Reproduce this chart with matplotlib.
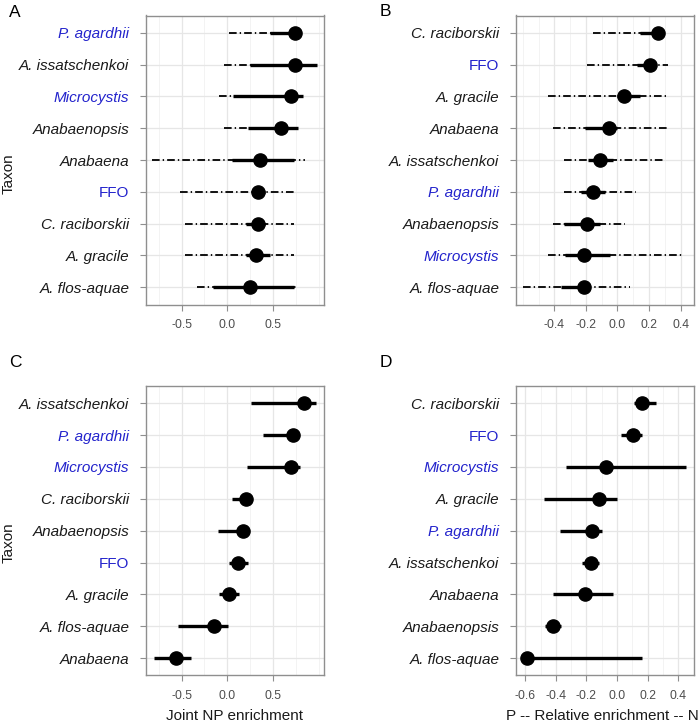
import matplotlib
matplotlib.use("Agg")
import matplotlib.pyplot as plt
import numpy as np

plt.rcParams['font.family'] = ['Liberation Sans', 'DejaVu Sans']
plt.rcParams['lines.scale_dashes'] = False

# ---------------- data ----------------
taxa_A = ["P. agardhii", "A. issatschenkoi", "Microcystis", "Anabaenopsis", "Anabaena",
          "FFO", "C. raciborskii", "A. gracile", "A. flos-aquae"]
est_A = [0.74, 0.74, 0.70, 0.59, 0.36, 0.34, 0.34, 0.32, 0.25]
inner_lo_A = [0.47, 0.25, 0.06, 0.23, 0.05, 0.27, 0.21, 0.21, -0.155]
inner_hi_A = [0.77, 0.98, 0.83, 0.78, 0.73, 0.41, 0.41, 0.47, 0.73]
outer_lo_A = [0.02, -0.04, -0.09, -0.04, -0.82, -0.52, -0.46, -0.46, -0.33]
outer_hi_A = [0.77, 0.98, 0.83, 0.78, 0.85, 0.74, 0.73, 0.73, 0.78]

taxa_B = ["C. raciborskii", "FFO", "A. gracile", "Anabaena", "A. issatschenkoi",
          "P. agardhii", "Anabaenopsis", "Microcystis", "A. flos-aquae"]
est_B = [0.255, 0.204, 0.042, -0.053, -0.11, -0.154, -0.196, -0.21, -0.21]
inner_lo_B = [0.14, 0.124, 0.0, -0.206, -0.185, -0.23, -0.34, -0.333, -0.36]
inner_hi_B = [0.29, 0.24, 0.145, -0.006, -0.03, -0.08, -0.11, -0.05, -0.175]
outer_lo_B = [-0.154, -0.196, -0.44, -0.406, -0.34, -0.34, -0.406, -0.44, -0.596]
outer_hi_B = [0.29, 0.32, 0.31, 0.32, 0.30, 0.116, 0.046, 0.425, 0.078]

taxa_C = ["A. issatschenkoi", "P. agardhii", "Microcystis", "C. raciborskii", "Anabaenopsis",
          "FFO", "A. gracile", "A. flos-aquae", "Anabaena"]
est_C = [0.843, 0.715, 0.70, 0.204, 0.168, 0.12, 0.015, -0.146, -0.558]
lo_C = [0.255, 0.394, 0.22, 0.047, -0.10, 0.018, -0.088, -0.536, -0.803]
hi_C = [0.974, 0.77, 0.796, 0.25, 0.21, 0.23, 0.128, 0.01, -0.40]

taxa_D = ["C. raciborskii", "FFO", "Microcystis", "A. gracile", "P. agardhii",
          "A. issatschenkoi", "Anabaena", "Anabaenopsis", "A. flos-aquae"]
est_D = [0.163, 0.104, -0.07, -0.12, -0.167, -0.172, -0.21, -0.42, -0.587]
lo_D = [0.109, 0.024, -0.337, -0.48, -0.37, -0.228, -0.42, -0.472, -0.61]
hi_D = [0.252, 0.161, 0.45, 0.002, -0.096, -0.117, -0.024, -0.365, 0.163]

blue_taxa = ["P. agardhii", "Microcystis", "FFO"]
upright_taxa = ["FFO"]

ticks_AC = [-0.5, 0.0, 0.5]
ticks_B = [-0.4, -0.2, 0.0, 0.2, 0.4]
ticks_D = [-0.6, -0.4, -0.2, 0.0, 0.2, 0.4]
minor_AC = [-0.75, -0.25, 0.25, 0.75, 1.0]
minor_BD = [-0.6, -0.5, -0.3, -0.1, 0.1, 0.3]

# ---------------- figure ----------------
W, H = 699, 726
fig = plt.figure(figsize=(W / 100, H / 100), dpi=100)


def ax_at(l, t, r, b):
    return fig.add_axes([l / W, 1 - b / H, (r - l) / W, (b - t) / H])


BLUE = '#2323CC'
GRID = '#E6E6E6'
GRID_MIN = '#F1F1F1'
BORDER = '#8F8F8F'


def panel(ax, taxa, est, lo, hi, xlim, major, minor, olo=None, ohi=None):
    n = len(taxa)
    y = np.arange(n, 0, -1)
    ax.set_xlim(xlim)
    ax.set_ylim(0.46, n + 0.54)
    for v in minor:
        ax.axvline(v, color=GRID_MIN, lw=0.6, zorder=0)
    for v in major:
        ax.axvline(v, color=GRID, lw=0.9, zorder=0)
    for yy in y:
        ax.axhline(yy, color=GRID, lw=0.9, zorder=0)
    if olo is not None:
        for yy, a, b in zip(y, olo, ohi):
            ax.plot([a, b], [yy, yy], color='k', lw=1.3,
                    dashes=(5.5, 2.2, 1.0, 2.2), solid_capstyle='butt',
                    dash_capstyle='butt', zorder=2)
    for yy, a, b in zip(y, lo, hi):
        ax.plot([a, b], [yy, yy], color='k', lw=2.4, solid_capstyle='butt', zorder=3)
    ax.plot(est, y, 'o', color='k', ms=9.5, zorder=4)

    ax.set_yticks(y)
    ax.set_yticklabels(taxa, fontsize=11)
    for lab in ax.get_yticklabels():
        t = lab.get_text()
        lab.set_color(BLUE if t in blue_taxa else '#1A1A1A')
        lab.set_fontstyle('normal' if t in upright_taxa else 'italic')
    ax.set_xticks(major)
    ax.set_xticklabels([f"{v:.1f}" for v in major], fontsize=8.8, color='#4D4D4D')
    ax.tick_params(axis='both', direction='out', length=4.3, width=0.8, color=BORDER)
    ax.tick_params(axis='y', pad=7.5)
    ax.tick_params(axis='x', pad=6.5)
    for s in ax.spines.values():
        s.set_color(BORDER)
        s.set_linewidth(1.0)
        s.set_zorder(5)


axA = ax_at(145.7, 15.5, 324.0, 304.5)
axB = ax_at(515.7, 15.5, 693.8, 304.5)
axC = ax_at(145.7, 386.0, 324.0, 675.3)
axD = ax_at(515.7, 386.0, 693.8, 675.3)

panel(axA, taxa_A, est_A, inner_lo_A, inner_hi_A, (-0.893, 1.06), ticks_AC, minor_AC,
      outer_lo_A, outer_hi_A)
panel(axB, taxa_B, est_B, inner_lo_B, inner_hi_B, (-0.645, 0.484), ticks_B, minor_BD,
      outer_lo_B, outer_hi_B)
panel(axC, taxa_C, est_C, lo_C, hi_C, (-0.893, 1.06), ticks_AC, minor_AC)
panel(axD, taxa_D, est_D, lo_D, hi_D, (-0.663, 0.502), ticks_D, minor_BD)

# axis titles
fig.text(9 / W, 1 - 173.5 / H, "Taxon", rotation=90, ha='center', va='center',
         fontsize=11, color='#1A1A1A')
fig.text(9 / W, 1 - 543 / H, "Taxon", rotation=90, ha='center', va='center',
         fontsize=11, color='#1A1A1A')
fig.text(234.9 / W, 1 - 716 / H, "Joint NP enrichment", ha='center', va='center',
         fontsize=11, color='#1A1A1A')
fig.text(602 / W, 1 - 716 / H, "P -- Relative enrichment -- N", ha='center',
         va='center', fontsize=11, color='#1A1A1A')

# panel letters
for lab, x, yt in [("A", 9, 5), ("B", 380, 4), ("C", 9, 355), ("D", 380, 355)]:
    fig.text(x / W, 1 - yt / H, lab, ha='left', va='top', fontsize=12.5, color='k')

fig.savefig("out.png", dpi=100)
